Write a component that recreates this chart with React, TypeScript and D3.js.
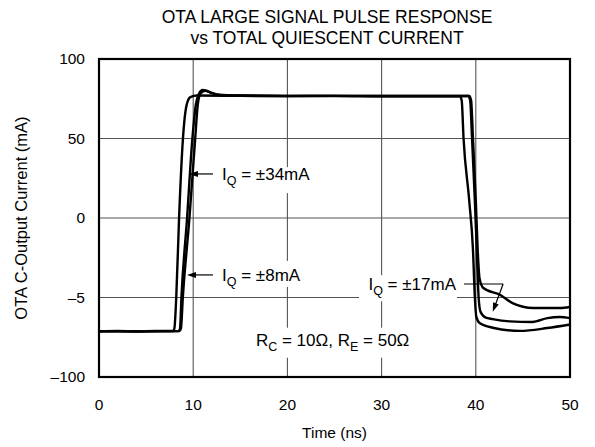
import * as d3 from 'd3';
import React from 'react';

// time axis (ns) and current axis (mA)
const xTicks = [0, 10, 20, 30, 40, 50];
const yTicks = [100, 50, 0, -50, -100];
const yTickLabels = ['100', '50', '0', '–5', '–100'];

// IQ = ±34mA (fastest edges, lowest tail)
const curveA: [number, number][] = [
  [0, -71.2], [2, -71], [4, -71.4], [6, -71.1], [7.85, -71.1], [8.0, -69.5], [8.2, -50], [8.5, 0],
  [8.9, 49], [9.3, 71], [9.7, 76], [10.4, 77], [15, 76.8], [20, 76.6], [25, 76.8], [30, 76.5],
  [35, 76.6], [38.3, 76.6], [38.5, 74], [38.7, 50], [39.3, 11], [39.7, -20], [39.9, -50],
  [40.05, -62], [40.4, -66], [41.8, -69], [44.7, -71], [47.6, -69.2], [50, -67]
];

// IQ = ±8mA (overshoot, middle tail)
const curveB: [number, number][] = [
  [0, -71.2], [4, -71.2], [8.45, -71.1], [8.6, -69.5], [8.75, -50], [9.35, 0], [9.9, 49],
  [10.3, 72], [10.6, 78], [11.0, 80.5], [11.6, 79.5], [12.6, 77.6], [15, 77], [20, 76.8],
  [30, 76.7], [39.2, 76.8], [39.4, 74], [39.6, 50], [39.9, 11], [40.1, -20], [40.3, -50],
  [40.5, -59], [41, -62.5], [41.8, -63.6], [43.6, -65], [46, -65.4], [47.6, -63], [48.9, -62.3], [50, -63]
];

// IQ = ±17mA (upper tail)
const curveC: [number, number][] = [
  [0, -71.2], [4, -71.2], [8.55, -71.1], [8.7, -69.5], [8.9, -50], [9.6, 0], [10.2, 49],
  [10.5, 72], [10.8, 78.5], [11.3, 80], [12, 78.5], [13, 77.2], [20, 76.8], [30, 76.7],
  [39.3, 76.8], [39.5, 74], [39.7, 50], [40.0, 11], [40.2, -20], [40.4, -38], [40.8, -44],
  [42.6, -48.4], [43.9, -53.5], [46.1, -56.6], [48.9, -56.6], [50, -56]
];

const curves = [curveA, curveB, curveC];

const W = 595;
const H = 447;
const margin = { left: 99, top: 59, right: 25, bottom: 70 };

const font = '"Liberation Sans", Arial, Helvetica, sans-serif';

const App = () => {
  const x = d3.scaleLinear().domain([0, 50]).range([margin.left, W - margin.right]);
  const y = d3.scaleLinear().domain([-100, 100]).range([H - margin.bottom, margin.top]);

  const line = d3
    .line<[number, number]>()
    .x((d) => x(d[0]))
    .y((d) => y(d[1]))
    .curve(d3.curveMonotoneX);

  const iq = (label: string, tx: number, ty: number, anchor = 'start') => (
    <text x={x(tx)} y={y(ty)} fontSize={17} textAnchor={anchor} dy="0.35em">
      I<tspan fontSize={12.5} dy={5}>Q</tspan>
      <tspan dy={-5}>{' = ±' + label}</tspan>
    </text>
  );

  const arrowHead = (tx: number, ty: number, dirX: number, dirY: number) => {
    const px = x(tx);
    const py = y(ty);
    const len = Math.hypot(dirX, dirY);
    const ux = dirX / len;
    const uy = dirY / len;
    const L = 9;
    const w = 3;
    const p = [
      [px, py],
      [px - ux * L - uy * w, py - uy * L + ux * w],
      [px - ux * L + uy * w, py - uy * L - ux * w]
    ];
    return <polygon points={p.map((q) => q.join(',')).join(' ')} fill="#000" />;
  };

  return (
    <svg width={W} height={H} style={{ position: 'absolute', left: 0, top: 0, fontFamily: font }}>
      <rect width={W} height={H} fill="#fff" />

      <text x={327} y={23} fontSize={17.5} textAnchor="middle">OTA LARGE SIGNAL PULSE RESPONSE</text>
      <text x={327} y={44} fontSize={17.5} textAnchor="middle">vs TOTAL QUIESCENT CURRENT</text>

      {/* grid */}
      <g stroke="#555" strokeWidth={1.1}>
        {xTicks.slice(1, -1).map((t) => (
          <line key={'gx' + t} x1={x(t)} x2={x(t)} y1={y(100)} y2={y(-100)} />
        ))}
        {yTicks.slice(1, -1).map((t) => (
          <line key={'gy' + t} x1={x(0)} x2={x(50)} y1={y(t)} y2={y(t)} />
        ))}
      </g>

      {/* label backgrounds breaking the grid */}
      <g fill="#fff">
        <rect x={x(12.9)} y={y(32)} width={102} height={26} />
        <rect x={x(12.9)} y={y(-27)} width={92} height={26} />
        <rect x={x(27.6)} y={y(-36)} width={98} height={26} />
        <rect x={x(15.8)} y={y(-69)} width={175} height={30} />
      </g>

      {curves.map((c, i) => (
        <path key={i} d={line(c) ?? ''} fill="none" stroke="#000" strokeWidth={2.4} strokeLinejoin="round" />
      ))}

      {/* annotations */}
      <g stroke="#000" strokeWidth={1.2}>
        <line x1={x(12.1)} x2={x(10.3)} y1={y(27.7)} y2={y(27.7)} />
        <line x1={x(12.1)} x2={x(10.0)} y1={y(-35.8)} y2={y(-35.8)} />
        <line x1={x(38.75)} x2={x(42.9)} y1={y(-41.5)} y2={y(-41.5)} />
        <line x1={x(42.9)} x2={x(42.05)} y1={y(-41.5)} y2={y(-55)} />
      </g>
      {arrowHead(9.55, 27.7, -1, 0)}
      {arrowHead(9.34, -35.8, -1, 0)}
      {arrowHead(41.8, -59, x(41.8) - x(42.9), y(-59) - y(-41.5))}

      {iq('34mA', 13.06, 27.7)}
      {iq('8mA', 13.06, -35.8)}
      {iq('17mA', 37.9, -41.5, 'end')}

      <text x={x(24.8)} y={y(-80.5)} fontSize={17} textAnchor="middle">
        R<tspan fontSize={12.5} dy={5}>C</tspan>
        <tspan dy={-5}> = 10Ω, R</tspan>
        <tspan fontSize={12.5} dy={5}>E</tspan>
        <tspan dy={-5}> = 50Ω</tspan>
      </text>

      {/* frame */}
      <rect x={x(0)} y={y(100)} width={x(50) - x(0)} height={y(-100) - y(100)} fill="none" stroke="#000" strokeWidth={2.2} />

      {/* tick labels */}
      {yTicks.map((t, i) => (
        <text key={'yl' + t} x={85} y={y(t)} dy="0.35em" fontSize={15.5} textAnchor="end">
          {yTickLabels[i]}
        </text>
      ))}
      {xTicks.map((t) => (
        <text key={'xl' + t} x={x(t)} y={y(-100) + 28} dy="0.35em" fontSize={15.5} textAnchor="middle">
          {t}
        </text>
      ))}

      <text x={x(25)} y={433} dy="0.35em" fontSize={15.5} textAnchor="middle">Time (ns)</text>
      <text
        transform={`translate(21,${y(0)}) rotate(-90)`}
        dy="0.35em"
        fontSize={16.5}
        textAnchor="middle"
      >
        OTA C-Output Current (mA)
      </text>
    </svg>
  );
};

export default App;
